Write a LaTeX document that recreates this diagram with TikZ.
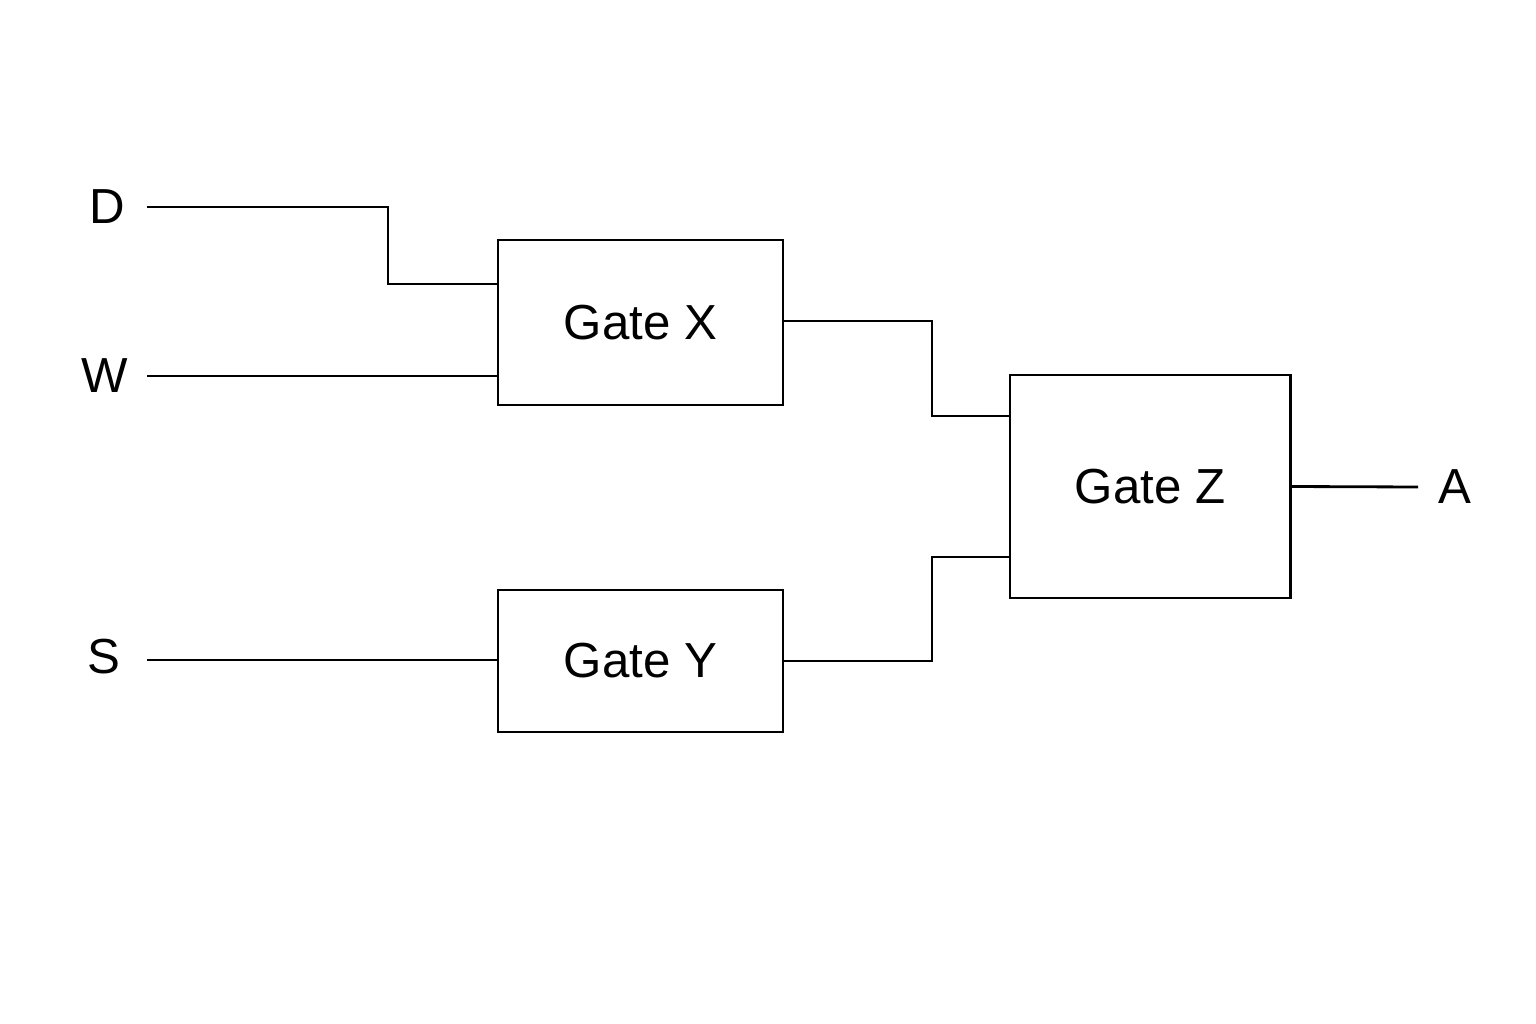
\documentclass[tikz,border=0pt]{standalone}
\usepackage{fontspec}
\setmainfont{Liberation Sans}
\usetikzlibrary{positioning}
\tikzset{
  gatebox/.style={draw,line width=0.8pt,minimum width=2.85cm,inner sep=0pt,font=\fontsize{14}{16}\selectfont},
  sig/.style={font=\fontsize{14}{16}\selectfont,inner sep=0pt},
  wire/.style={line width=0.8pt}
}
\begin{document}
\begin{tikzpicture}[x=0.01cm,y=-0.01cm]
\useasboundingbox (0,0) rectangle (1536,1024);
\node[gatebox,minimum height=1.65cm] (gx) at (640.5,322.5) {Gate X};
\node[gatebox,minimum height=1.42cm] (gy) at (640.5,661) {Gate Y};
\node[gatebox,minimum width=2.8cm,minimum height=2.23cm] (gz) at (1150,486.5) {Gate Z};
\node[sig] (d) at (107,207) {D};
\node[sig] (w) at (105,376) {W};
\node[sig] (s) at (104,657) {S};
\node[sig] (a) at (1455,487) {A};
\coordinate (d0) at (147,207);
\coordinate (w0) at (147,376);
\coordinate (s0) at (147,660);
\coordinate (a0) at (1418,487);
% inputs
\draw[wire] (d0) -- (388,207) |- (gx.west |- 0,284);
\draw[wire] (w0) -- (gx.west |- w0);
\draw[wire] (s0) -- (gy.west |- s0);
% to gate Z
\draw[wire] (gx.east |- 0,321) -- (932,321) |- (gz.west |- 0,416);
\draw[wire] (gy.east |- 0,661) -- (932,661) |- (gz.west |- 0,557);
\draw[wire] (gz.east) -- (a0);
\end{tikzpicture}
\end{document}
